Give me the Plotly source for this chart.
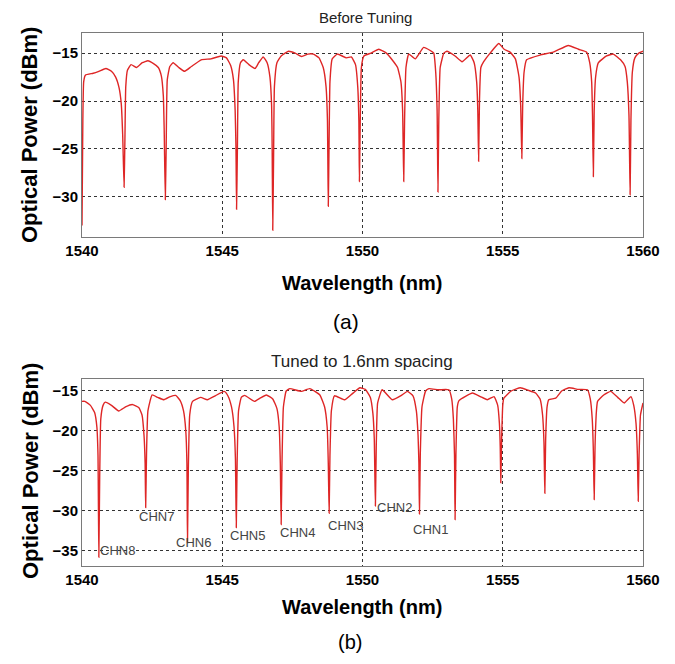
import plotly.graph_objects as go

# ---- data ----
wl_a = [1540.00, 1540.03, 1540.06, 1540.12, 1540.4, 1540.6, 1540.85, 1541.05, 1541.2, 1541.32,
        1541.40, 1541.45, 1541.50, 1541.53, 1541.56, 1541.62, 1541.75, 1541.95, 1542.15, 1542.35,
        1542.55, 1542.72, 1542.83, 1542.90, 1542.93, 1542.97, 1543.00, 1543.04, 1543.13, 1543.25,
        1543.45, 1543.66, 1543.9, 1544.25, 1544.6, 1544.96, 1545.15, 1545.3, 1545.40, 1545.46,
        1545.49, 1545.51, 1545.54, 1545.57, 1545.65, 1545.75, 1545.95, 1546.17, 1546.3, 1546.46,
        1546.6, 1546.70, 1546.76, 1546.78, 1546.80, 1546.83, 1546.86, 1546.95, 1547.1, 1547.36,
        1547.6, 1547.83, 1548.05, 1548.25, 1548.45, 1548.6, 1548.70, 1548.75, 1548.78, 1548.81,
        1548.84, 1548.92, 1549.1, 1549.43, 1549.6, 1549.75, 1549.83, 1549.87, 1549.89, 1549.92,
        1549.96, 1550.05, 1550.3, 1550.58, 1550.85, 1551.11, 1551.25, 1551.37, 1551.43, 1551.47,
        1551.50, 1551.55, 1551.65, 1551.88, 1552.18, 1552.4, 1552.54, 1552.61, 1552.66, 1552.69,
        1552.72, 1552.77, 1552.9, 1553.01, 1553.3, 1553.55, 1553.84, 1553.98, 1554.07, 1554.11,
        1554.14, 1554.17, 1554.22, 1554.32, 1554.55, 1554.86, 1555.05, 1555.26, 1555.45, 1555.58,
        1555.64, 1555.68, 1555.71, 1555.76, 1555.85, 1556.33, 1556.8, 1557.34, 1557.7, 1557.99,
        1558.1, 1558.17, 1558.20, 1558.23, 1558.26, 1558.31, 1558.41, 1558.7, 1558.94, 1559.2,
        1559.36, 1559.44, 1559.50, 1559.54, 1559.57, 1559.62, 1559.71, 1559.85, 1560.0]
dbm_a = [-33.0, -22.0, -18.0, -17.3, -17.1, -16.9, -16.6, -16.9, -17.5, -18.6,
         -20.3, -23.5, -29.0, -24.0, -18.5, -16.8, -16.2, -16.5, -16.0, -15.8,
         -16.1, -16.5, -17.4, -19.5, -23.0, -30.3, -25.0, -17.8, -16.4, -16.0,
         -16.5, -16.9, -16.4, -15.7, -15.6, -15.3, -15.5, -16.3, -17.8, -21.0,
         -25.0, -31.3, -25.0, -18.0, -16.0, -15.7, -16.2, -16.6, -16.0, -15.4,
         -16.0, -17.5, -20.5, -25.0, -33.5, -26.0, -18.5, -16.0, -15.3, -14.8,
         -15.0, -15.35, -15.1, -15.1, -15.5, -16.5, -18.5, -22.0, -31.0, -24.0,
         -18.0, -15.6, -15.1, -15.5, -15.4, -16.2, -18.5, -22.0, -28.4, -22.0,
         -16.5, -15.3, -15.0, -14.6, -15.0, -15.9, -16.5, -18.0, -21.0, -28.4,
         -22.0, -16.5, -15.1, -15.6, -14.4, -14.7, -15.0, -17.0, -21.0, -29.5,
         -22.0, -16.5, -15.0, -14.8, -15.3, -15.9, -15.2, -16.0, -18.0, -21.0,
         -26.3, -20.0, -16.5, -15.9, -15.0, -14.0, -14.6, -14.9, -15.6, -17.5,
         -20.5, -26.0, -20.5, -17.0, -15.7, -15.2, -14.9, -14.2, -14.6, -14.9,
         -16.0, -18.0, -21.5, -27.9, -21.0, -17.5, -16.0, -15.3, -15.1, -15.7,
         -16.4, -18.0, -21.5, -29.8, -22.0, -17.0, -15.5, -15.0, -14.8]

wl_b = [1540.0, 1540.1, 1540.3, 1540.45, 1540.53, 1540.57, 1540.60, 1540.63, 1540.67, 1540.75,
        1540.83, 1541.05, 1541.31, 1541.55, 1541.79, 1542.03, 1542.14, 1542.21, 1542.25, 1542.27,
        1542.30, 1542.35, 1542.5, 1542.7, 1542.92, 1543.15, 1543.34, 1543.5, 1543.62, 1543.70,
        1543.74, 1543.76, 1543.79, 1543.84, 1543.94, 1544.23, 1544.47, 1544.75, 1545.07, 1545.2,
        1545.33, 1545.42, 1545.47, 1545.50, 1545.53, 1545.58, 1545.68, 1545.8, 1546.15, 1546.35,
        1546.57, 1546.8, 1546.95, 1547.03, 1547.07, 1547.10, 1547.13, 1547.18, 1547.28, 1547.41,
        1547.82, 1548.12, 1548.48, 1548.65, 1548.74, 1548.78, 1548.81, 1548.84, 1548.89, 1549.0,
        1549.37, 1549.65, 1549.91, 1550.1, 1550.28, 1550.37, 1550.42, 1550.46, 1550.49, 1550.54,
        1550.7, 1551.06, 1551.41, 1551.6, 1551.8, 1551.92, 1551.98, 1552.01, 1552.03, 1552.06,
        1552.12, 1552.25, 1552.37, 1552.7, 1553.08, 1553.18, 1553.24, 1553.28, 1553.30, 1553.33,
        1553.38, 1553.44, 1553.92, 1554.2, 1554.45, 1554.69, 1554.82, 1554.88, 1554.91, 1554.93,
        1554.96, 1555.0, 1555.04, 1555.3, 1555.63, 1555.9, 1556.17, 1556.33, 1556.42, 1556.47,
        1556.50, 1556.53, 1556.58, 1556.64, 1556.89, 1557.1, 1557.36, 1557.7, 1558.02, 1558.12,
        1558.19, 1558.23, 1558.26, 1558.29, 1558.34, 1558.38, 1558.6, 1558.85, 1559.1, 1559.33,
        1559.57, 1559.67, 1559.75, 1559.80, 1559.83, 1559.86, 1559.91, 1560.0]
dbm_b = [-16.3, -16.3, -16.8, -17.7, -19.5, -23.0, -35.8, -26.0, -18.5, -16.8,
         -16.4, -16.8, -17.5, -17.0, -16.7, -17.1, -18.0, -20.5, -24.0, -29.6,
         -23.0, -17.5, -15.5, -15.8, -16.1, -15.7, -15.55, -16.2, -17.5, -20.0,
         -24.0, -34.0, -25.0, -18.0, -16.3, -15.8, -16.1, -15.6, -15.05, -15.6,
         -17.0, -19.5, -23.5, -32.1, -24.0, -17.5, -15.8, -15.55, -16.3, -15.9,
         -15.5, -16.0, -17.2, -19.5, -24.0, -31.7, -24.0, -17.0, -15.0, -14.7,
         -15.05, -14.7, -15.5, -17.0, -19.5, -24.0, -30.3, -23.0, -17.5, -15.6,
         -16.1, -15.3, -14.6, -14.8, -15.8, -17.8, -21.0, -29.4, -22.0, -16.5,
         -14.85, -16.1, -15.5, -15.05, -15.6, -17.5, -20.5, -24.0, -30.4, -23.0,
         -17.0, -15.0, -14.7, -14.85, -14.85, -16.0, -18.5, -23.0, -31.1, -23.0,
         -17.0, -16.2, -15.25, -15.7, -16.1, -15.7, -16.8, -19.0, -22.0, -26.5,
         -21.0, -16.8, -15.9, -15.0, -14.6, -14.9, -15.25, -16.0, -18.0, -21.5,
         -27.8, -21.0, -17.0, -16.1, -15.9, -15.0, -14.6, -14.8, -14.85, -16.0,
         -18.5, -22.5, -28.6, -22.0, -17.5, -16.3, -15.5, -15.05, -15.8, -16.5,
         -15.7, -16.8, -19.0, -23.0, -28.8, -23.0, -18.0, -16.5]

chn_labels = ["CHN8", "CHN7", "CHN6", "CHN5", "CHN4", "CHN3", "CHN2", "CHN1"]
chn_x = [1541.25, 1542.65, 1543.99, 1545.89, 1547.67, 1549.41, 1551.14, 1552.44]
chn_y = [-34.9, -30.7, -34.0, -33.1, -32.7, -31.8, -29.6, -32.3]

x_ticks = [1540, 1545, 1550, 1555, 1560]
y_ticks_a = [-15, -20, -25, -30]
y_ticks_b = [-15, -20, -25, -30, -35]

# page body has an 8px margin; figure is sized to fit inside the window
OFF = 8
W, H = 675 - 2 * OFF, 664 - 2 * OFF
RED = "rgb(222,38,38)"
FONT = "Liberation Sans, Arial, sans-serif"


def px_x(p):
    return (p - OFF) / W


def px_y(p):
    return 1 - (p - OFF) / H


fig = go.Figure()
fig.add_trace(go.Scatter(x=wl_a, y=dbm_a, mode="lines",
                         line=dict(color=RED, width=1.4, shape="spline", smoothing=0.4),
                         xaxis="x", yaxis="y", showlegend=False))
fig.add_trace(go.Scatter(x=wl_b, y=dbm_b, mode="lines",
                         line=dict(color=RED, width=1.4, shape="spline", smoothing=0.4),
                         xaxis="x2", yaxis="y2", showlegend=False))

axis_common = dict(showline=True, linecolor="#7a7a7a", linewidth=1, mirror=True,
                   showgrid=True, gridcolor="#333333", griddash="dot", gridwidth=1,
                   zeroline=False, ticks="", automargin=False,
                   tickfont=dict(family=FONT, size=15, color="black", weight="bold"))

dom_x = [px_x(82), px_x(643)]
fig.update_layout(
    width=W, height=H,
    margin=dict(l=0, r=0, t=0, b=0, autoexpand=False),
    paper_bgcolor="white", plot_bgcolor="white",
    xaxis=dict(domain=dom_x, range=[1540, 1560], tickvals=x_ticks, anchor="y", **axis_common),
    yaxis=dict(domain=[px_y(237), px_y(33)], range=[-34.2, -12.9], tickvals=y_ticks_a,
               anchor="x", **axis_common),
    xaxis2=dict(domain=dom_x, range=[1540, 1560], tickvals=x_ticks, anchor="y2", **axis_common),
    yaxis2=dict(domain=[px_y(566), px_y(379)], range=[-36.9, -13.5], tickvals=y_ticks_b,
                anchor="x2", **axis_common),
)

ann = []


def add_text(text, x, y, size, color="black", weight="normal", angle=0):
    ann.append(dict(text=text, x=px_x(x), y=px_y(y), xref="paper", yref="paper",
                    xanchor="center", yanchor="middle", showarrow=False, textangle=angle,
                    font=dict(family=FONT, size=size, color=color, weight=weight)))


add_text("Before Tuning", 366, 18, 15, "#222")
add_text("Tuned to 1.6nm spacing", 362, 361, 17, "#222")
add_text("Wavelength (nm)", 362, 283, 20, weight="bold")
add_text("Wavelength (nm)", 362, 607, 20, weight="bold")
add_text("Optical Power (dBm)", 30, 135, 22, weight="bold", angle=-90)
add_text("Optical Power (dBm)", 31, 471, 22, weight="bold", angle=-90)
add_text("(a)", 346, 322, 21)
add_text("(b)", 350, 642, 20)

for t, xv, yv in zip(chn_labels, chn_x, chn_y):
    ann.append(dict(text=t, x=xv, y=yv, xref="x2", yref="y2", showarrow=False,
                    xanchor="center", yanchor="middle",
                    font=dict(family=FONT, size=13, color="#444")))

fig.update_layout(annotations=ann)
fig.write_html("out.html")
